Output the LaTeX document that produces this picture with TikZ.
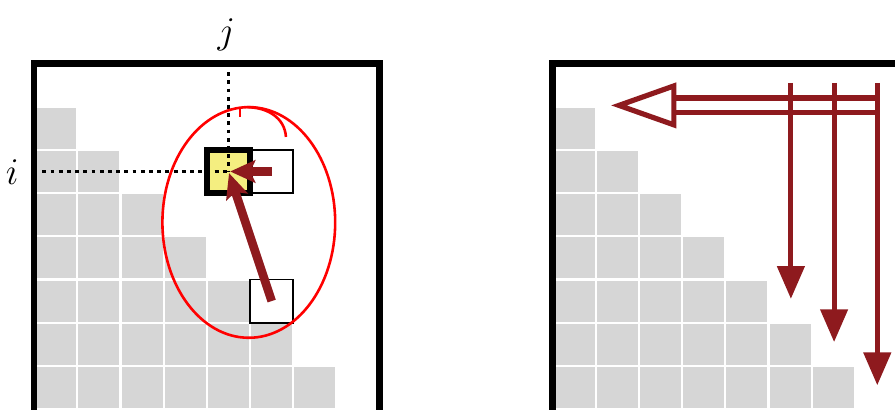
\documentclass[tikz,border=0pt]{standalone}
\usetikzlibrary{arrows.meta}

\definecolor{arrowred}{RGB}{142,26,30}
\definecolor{cellgray}{RGB}{214,214,214}
\definecolor{curyellow}{RGB}{244,238,128}

\begin{document}
\begin{tikzpicture}[line join=miter,
    cell/.style={fill=cellgray, draw=white, line width=0.05cm},
    frame/.style={draw=black, line width=0.15cm},
    box/.style={draw=black, line width=0.04cm, minimum size=1cm, inner sep=0pt},
    guide/.style={line width=0.05cm, dash pattern=on 0.09cm off 0.1cm},
    hop/.style={-{Stealth[length=0.58cm, width=0.52cm, inset=0.12cm]},
        arrowred, line width=0.2cm},
    sweep/.style={-{Triangle[length=0.76cm, width=0.62cm]},
        arrowred, line width=0.12cm},
    idx/.style={font=\fontsize{31}{37}\selectfont, anchor=base}]

    % ── Page: 895 x 410 px, one unit = one matrix cell (about 43 px) ─────────
    % left matrix at x = 0..8, right matrix at x = 12..20, rows y = 0..8
    \useasboundingbox (-0.79,-0.02) rectangle (19.93,9.47);
    \clip (-0.79,-0.02) rectangle (19.93,9.47);

    % ── Both matrices: strict lower triangle of an 8 x 8 grid ────────────────
    \foreach \dx in {0,12} {
        \begin{scope}[xshift=\dx cm]
            \foreach \k in {0,...,6} {
                \pgfmathtruncatemacro{\last}{6-\k}
                \foreach \c in {0,...,\last}
                    \draw[cell] (\c,\k) rectangle ++(1,1);
            }
            \draw[frame] (0,-0.5) -- (0,8) -- (8,8) -- (8,-0.5);
        \end{scope}
    }

    % ── Left: cell (i,j) and the two cells it depends on ─────────────────────
    \node[box, fill=white] (right) at (5.5,5.5) {};
    \node[box] (below) at (5.5,2.5) {};
    \node[box, fill=curyellow, line width=0.14cm] (cur) at (4.5,5.5) {};

    % index guides and labels
    \coordinate (jtop) at (4.5,7.8);
    \coordinate (ileft) at (0.19,5.5);
    \draw[guide] (jtop) -- (cur.center);
    \draw[guide] (ileft) -- (cur.center);
    \node[idx] (jlab) at (4.45,8.47) {$j$};
    \node[idx] (ilab) at (-0.51,5.19) {$i$};

    % dependencies
    \draw[hop, shorten >=0.04cm] (right.center) -- (cur.center);
    \draw[hop, shorten >=0.04cm] (below.center) -- (cur.center);

    % hand-drawn red circle
    \draw[red, line width=0.06cm] (4.97,4.32) ellipse [x radius=2.0, y radius=2.67];
    \draw[red, line width=0.06cm]
        (4.93,6.99) .. controls (5.4,6.98) and (5.8,6.75) .. (5.83,6.30);
    \draw[red, line width=0.05cm] (4.76,6.95) -- (4.76,6.76);

    % ── Right: sweep order (columns downward, then leftward) ─────────────────
    \begin{scope}[xshift=12cm]
        \draw[arrowred, line width=0.12cm, double=white, double distance=0.22cm]
            (7.52,7.03) -- (2.81,7.03);
        \draw[arrowred, line width=0.12cm, fill=white]
            (2.81,7.48) -- (1.54,7.03) -- (2.81,6.58) -- cycle;
        \foreach \c in {5,6,7}
            \draw[sweep] (\c+0.52,7.55) -- (\c+0.52,7.55-\c);
    \end{scope}

\end{tikzpicture}
\end{document}
